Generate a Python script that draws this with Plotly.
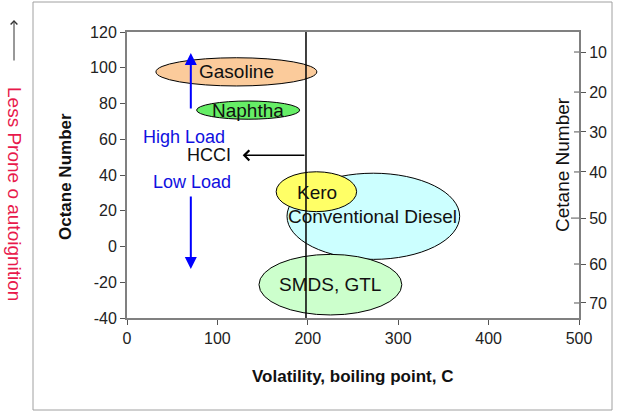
import plotly.graph_objects as go

# ---- data ----
fuels = ["Conventional Diesel", "SMDS, GTL", "Kero", "Gasoline", "Naphtha"]
bp_low = [177, 146, 165, 32, 77]
bp_high = [368, 304, 254, 210, 191]
oct_low = [-7.2, -38.3, 19.5, 89.8, 71.2]
oct_high = [41, -4.4, 41.8, 105.6, 81.4]
label_bp = [272, 224, 210, 121, 134]
label_oct = [16.7, -21.5, 30, 97.7, 76.3]
fill_colors = ["#CCFFFF", "#CCFFCC", "#FFFF66", "#FBCB9B", "#66EE66"]

octane_ticks = [-40, -20, 0, 20, 40, 60, 80, 100, 120]
octane_tick_labels = ["-40", "-20", "0", "20", "40", "60", "80", "100", "120"]
bp_ticks = [0, 100, 200, 300, 400, 500]

cetane_ticks = [10, 20, 30, 40, 50, 60, 70]
cetane_on_octane = [108.8, 86.4, 64.1, 41.7, 15.9, -9.8, -31.6]

hcci_bp = 198
hcci_oct = 51
hcci_arrow_tip = 128
load_bp = 70.6
high_load_from, high_load_to = 76.4, 108.2
low_load_from, low_load_to = 28.8, -12.6

FONT = "Liberation Sans, Arial, sans-serif"

fig = go.Figure()
# invisible traces to activate axes
fig.add_trace(go.Scatter(x=[0, 500], y=[-40, 120], mode="markers",
                         marker=dict(opacity=0), showlegend=False, hoverinfo="skip"))
fig.add_trace(go.Scatter(x=[0, 500], y=[-40, 120], mode="markers", yaxis="y2",
                         marker=dict(opacity=0), showlegend=False, hoverinfo="skip"))

shapes = []
for i, f in enumerate(fuels):
    shapes.append(dict(type="circle", xref="x", yref="y",
                       x0=bp_low[i], x1=bp_high[i], y0=oct_low[i], y1=oct_high[i],
                       fillcolor=fill_colors[i], line=dict(color="black", width=1),
                       layer="above"))
# vertical HCCI boundary line
shapes.append(dict(type="line", xref="x", yref="y", x0=hcci_bp, x1=hcci_bp,
                   y0=-40, y1=121.2, line=dict(color="black", width=1.5), layer="above"))
# inside half of right-axis ticks
for v, t in zip(cetane_on_octane, cetane_ticks):
    ln = 8 if t == 50 else 5
    shapes.append(dict(type="line", xref="paper", yref="y",
                       x0=1 - ln / 452, x1=1, y0=v, y1=v,
                       line=dict(color="#555555", width=1), layer="above"))
# outer frame
shapes.append(dict(type="rect", xref="paper", yref="paper",
                   x0=(33 - 127) / 452, x1=(612 - 127) / 452,
                   y0=(318 - 410) / 286, y1=(318 - 2) / 286,
                   line=dict(color="#A0A0A0", width=1), fillcolor="rgba(0,0,0,0)"))

annotations = []
for i, f in enumerate(fuels):
    annotations.append(dict(x=label_bp[i], y=label_oct[i], xref="x", yref="y",
                            text=f, showarrow=False,
                            font=dict(family=FONT, size=19, color="#111111")))
# HCCI arrow and labels
annotations.append(dict(x=hcci_arrow_tip, y=hcci_oct, ax=hcci_bp, ay=hcci_oct,
                        xref="x", yref="y", axref="x", ayref="y", text="",
                        showarrow=True, arrowhead=4, arrowsize=1.3, arrowwidth=1.5,
                        arrowcolor="black"))
annotations.append(dict(x=91, y=hcci_oct, xref="x", yref="y", text="HCCI",
                        showarrow=False, font=dict(family=FONT, size=18, color="#111111")))
annotations.append(dict(x=63, y=61, xref="x", yref="y", text="High Load",
                        showarrow=False, font=dict(family=FONT, size=18, color="#1010E0")))
annotations.append(dict(x=72, y=36, xref="x", yref="y", text="Low Load",
                        showarrow=False, font=dict(family=FONT, size=18, color="#1010E0")))
annotations.append(dict(x=load_bp, y=high_load_to, ax=load_bp, ay=high_load_from,
                        xref="x", yref="y", axref="x", ayref="y", text="",
                        showarrow=True, arrowhead=2, arrowsize=1.2, arrowwidth=2,
                        arrowcolor="#0000FF"))
annotations.append(dict(x=load_bp, y=low_load_to, ax=load_bp, ay=low_load_from,
                        xref="x", yref="y", axref="x", ayref="y", text="",
                        showarrow=True, arrowhead=2, arrowsize=1.2, arrowwidth=2,
                        arrowcolor="#0000FF"))
# axis titles
annotations.append(dict(x=(65 - 127) / 452, y=(318 - 177) / 286, xref="paper", yref="paper",
                        xanchor="center", yanchor="middle",
                        text="<b>Octane Number</b>", textangle=-90, showarrow=False,
                        font=dict(family=FONT, size=17, color="#111111")))
annotations.append(dict(x=(562 - 127) / 452, y=(318 - 165) / 286, xref="paper", yref="paper",
                        xanchor="center", yanchor="middle",
                        text="Cetane Number", textangle=-90, showarrow=False,
                        font=dict(family=FONT, size=19, color="#111111")))
annotations.append(dict(x=(352 - 127) / 452, y=(318 - 376) / 286, xref="paper", yref="paper",
                        xanchor="center", yanchor="middle",
                        text="<b>Volatility, boiling point, C</b>", showarrow=False,
                        font=dict(family=FONT, size=17, color="#111111")))
# left side note
annotations.append(dict(x=(14 - 127) / 452, y=(318 - 20) / 286, xref="paper", yref="paper",
                        ax=0, ay=42, text="", showarrow=True, arrowhead=4, arrowsize=1.3,
                        arrowwidth=1, arrowcolor="#333333"))
annotations.append(dict(x=(15 - 127) / 452, y=(318 - 194) / 286, xref="paper", yref="paper",
                        xanchor="center", yanchor="middle",
                        text="Less Prone o autoignition", textangle=90, showarrow=False,
                        font=dict(family=FONT, size=19, color="#E8194B")))

axis_line = dict(showline=True, linecolor="#808080", linewidth=2, showgrid=False,
                 zeroline=False, ticks="outside", ticklen=5, tickcolor="#555555",
                 tickfont=dict(family=FONT, size=16, color="#222222"))

fig.update_layout(
    width=624, height=413,
    margin=dict(l=127, r=45, t=32, b=95),
    paper_bgcolor="white", plot_bgcolor="white",
    showlegend=False,
    xaxis=dict(range=[0, 500], tickvals=bp_ticks, mirror=True, **axis_line),
    yaxis=dict(range=[-40, 120], tickvals=octane_ticks, ticktext=octane_tick_labels,
               mirror=True, **axis_line),
    yaxis2=dict(range=[-40, 120], overlaying="y", side="right",
                tickvals=cetane_on_octane, ticktext=[str(t) for t in cetane_ticks],
                showline=True, linecolor="#808080", linewidth=2, showgrid=False,
                zeroline=False, ticks="outside", ticklen=5, tickcolor="#555555",
                tickfont=dict(family=FONT, size=16, color="#222222")),
    shapes=shapes,
    annotations=annotations,
)

fig.write_html("out.html", config={"displayModeBar": False},
               post_script="document.body.style.margin='0';document.body.style.padding='0';")
